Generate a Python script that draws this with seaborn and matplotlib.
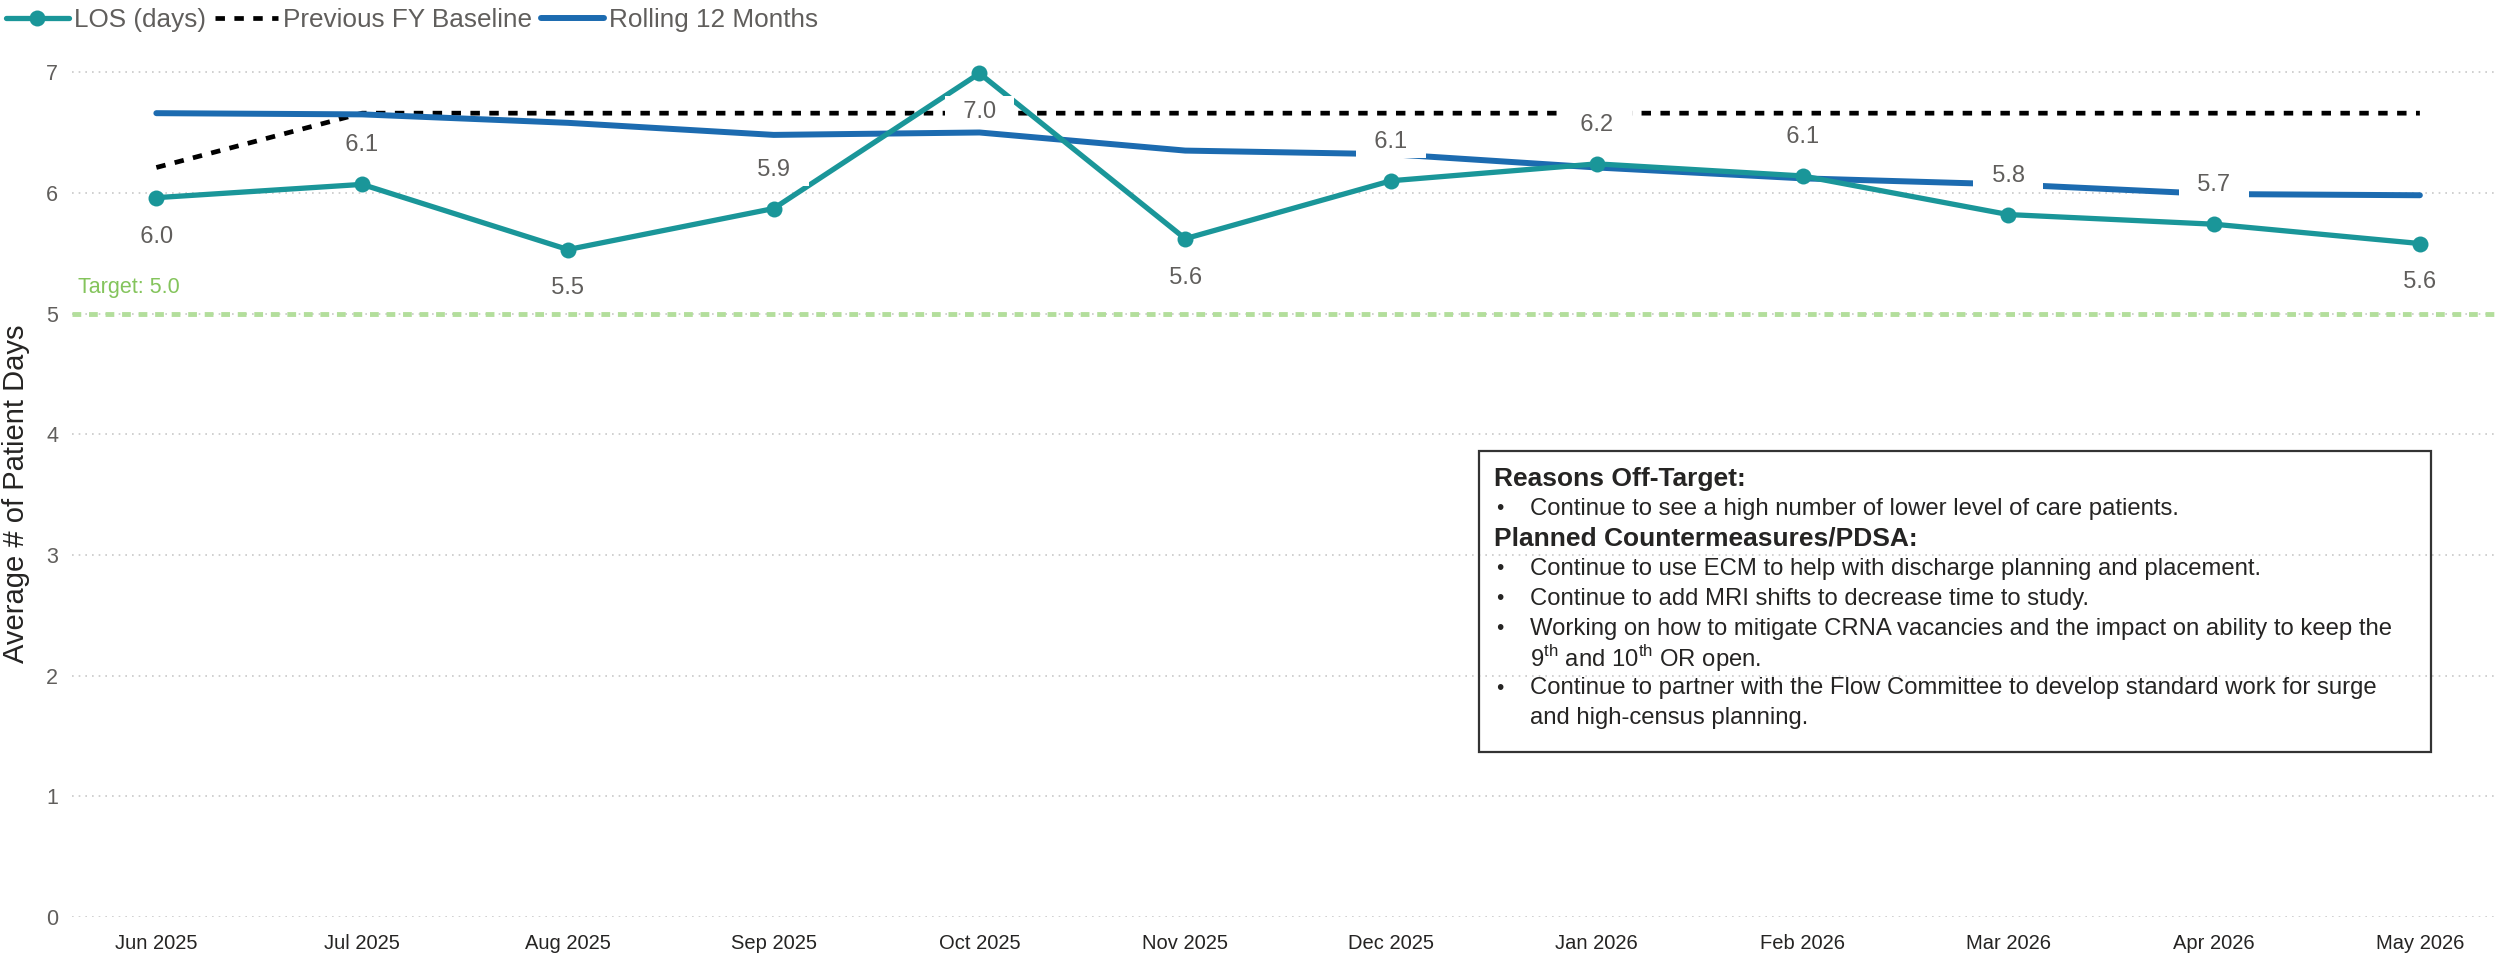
import matplotlib
matplotlib.use('Agg')
import matplotlib.pyplot as plt
import seaborn as sns
import pandas as pd
from matplotlib.patches import Rectangle
from matplotlib.lines import Line2D

# ============ Chart data ============
months = ['Jun 2025', 'Jul 2025', 'Aug 2025', 'Sep 2025', 'Oct 2025', 'Nov 2025',
          'Dec 2025', 'Jan 2026', 'Feb 2026', 'Mar 2026', 'Apr 2026', 'May 2026']
los_days = [5.96, 6.07, 5.53, 5.87, 6.99, 5.62, 6.10, 6.24, 6.14, 5.82, 5.74, 5.58]
label_side = ['below', 'above', 'below', 'above', 'below', 'below',
              'above', 'above', 'above', 'above', 'above', 'below']
baseline = [6.21, 6.66, 6.66, 6.66, 6.66, 6.66, 6.66, 6.66, 6.66, 6.66, 6.66, 6.66]
rolling_12 = [6.66, 6.65, 6.58, 6.48, 6.50, 6.35, 6.32, 6.21, 6.12, 6.07, 5.99, 5.98]
target = 5.0

box_lines = [
    ('head', 'Reasons Off-Target:'),
    ('bullet', 'Continue to see a high number of lower level of care patients.'),
    ('head', 'Planned Countermeasures/PDSA:'),
    ('bullet', 'Continue to use ECM to help with discharge planning and placement.'),
    ('bullet', 'Continue to add MRI shifts to decrease time to study.'),
    ('bullet', 'Working on how to mitigate CRNA vacancies and the impact on ability to keep the'),
    ('cont', '9$^{\\mathrm{th}}$ and 10$^{\\mathrm{th}}$ OR open.'),
    ('bullet', 'Continue to partner with the Flow Committee to develop standard work for surge'),
    ('cont', 'and high-census planning.'),
]

df = pd.DataFrame({'idx': range(len(months)), 'month': months, 'los': los_days,
                   'baseline': baseline, 'rolling': rolling_12})

# ============ Style ============
sns.set_style('white')
plt.rcParams['font.family'] = ['Liberation Sans', 'DejaVu Sans']
plt.rcParams['mathtext.fontset'] = 'custom'
plt.rcParams['mathtext.rm'] = 'Liberation Sans'

teal = '#1A9699'
blue = '#1C6BB0'
green_line = '#B3DE9C'
green_text = '#84C45C'
grey_text = '#605E5C'

W, H = 2496, 959
fig = plt.figure(figsize=(W / 100, H / 100), dpi=100)
ax = fig.add_axes([72 / W, 1 - 917 / H, 1 - 72 / W, 869 / H])

# grid
for v in range(0, 8):
    ax.axhline(v, color='#C8C8C8', lw=1.2, ls=(0, (1, 3)), zorder=0)

# target line
ax.axhline(target, color=green_line, lw=3.5, ls=(0, (1.8, 1.6)), zorder=1)

sns.lineplot(data=df, x='idx', y='baseline', ax=ax, color='black', lw=3.4,
             linestyle=(0, (2, 2)), legend=False, zorder=2)
sns.lineplot(data=df, x='idx', y='rolling', ax=ax, color=blue, lw=4.3,
             legend=False, zorder=3)
sns.lineplot(data=df, x='idx', y='los', ax=ax, color=teal, lw=3.8, marker='o',
             markersize=11.5, markeredgewidth=0, legend=False, zorder=4)

# data labels (white box wider than tall, like the original)
for i, (v, side) in enumerate(zip(los_days, label_side)):
    dy = 28 if side == 'above' else -28
    ax.annotate(f'  {v:.1f}  ', (i, v), xytext=(0, dy), textcoords='offset points',
                ha='center', va='center', fontsize=17, color=grey_text, zorder=6,
                bbox=dict(boxstyle='square,pad=0.22', fc='white', ec='none'))

ax.set_xlim(-0.41, 11.37)
ax.set_ylim(0, 7.2)
ax.set_xticks(range(len(months)))
ax.set_xticklabels(months, fontsize=14.5, color='#252423')
ax.set_yticks(range(0, 8))
ax.set_yticklabels([str(v) for v in range(0, 8)], fontsize=15.5, color=grey_text)
ax.tick_params(axis='x', length=0, pad=12)
ax.tick_params(axis='y', length=0, pad=10)
ax.set_xlabel('')
ax.set_ylabel('')
sns.despine(ax=ax, left=True, bottom=True)

ax.annotate('Target: 5.0', (-0.38, target), xytext=(0, 11), textcoords='offset points',
            ha='left', va='bottom', fontsize=15.5, color=green_text)

fig.text(16 / W, 1 - 494 / H, 'Average # of Patient Days', rotation=90,
         ha='center', va='center', fontsize=21, color='#252423')

# legend
handles = [
    Line2D([], [], color=teal, lw=3.8, marker='o', markersize=11.5, markeredgewidth=0),
    Line2D([], [], color='black', lw=3.4, ls=(0, (2, 2))),
    Line2D([], [], color=blue, lw=4.3),
]
fig.legend(handles, ['LOS (days)', 'Previous FY Baseline', 'Rolling 12 Months'],
           loc='upper left', bbox_to_anchor=(-0.007, 1.016), ncol=3, frameon=False,
           fontsize=18.8, labelcolor=grey_text, handlelength=2.4, handletextpad=0.2,
           columnspacing=0.35)

# comment box
fig.add_artist(Rectangle((1479 / W, 1 - 752 / H), (2431 - 1479) / W, (752 - 451) / H,
                         transform=fig.transFigure, fill=False, ec='#333333', lw=1.6))
y = 479
for kind, txt in box_lines:
    yf = 1 - y / H
    if kind == 'head':
        fig.text(1494 / W, yf, txt, fontsize=19, fontweight='bold', color='#252423',
                 ha='left', va='center')
    else:
        if kind == 'bullet':
            fig.text(1496 / W, yf, '\u2022', fontsize=15, color='#252423',
                     ha='left', va='center')
        fig.text(1530 / W, yf, txt, fontsize=17.2, color='#252423', ha='left', va='center')
    y += 29.9

fig.savefig('out.png', dpi=100)
